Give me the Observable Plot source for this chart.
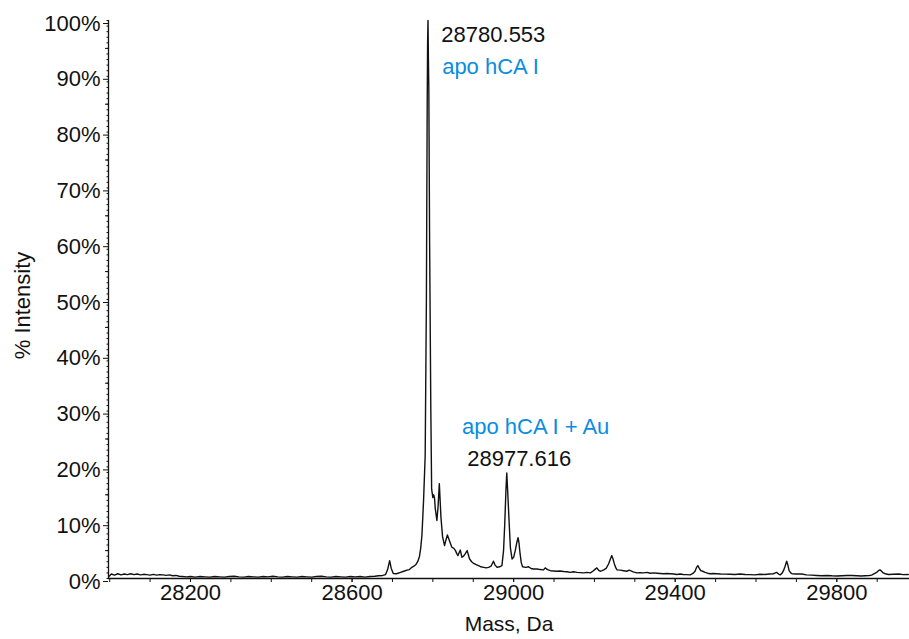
<!DOCTYPE html>
<html><head><meta charset="utf-8">
<script src="https://cdn.jsdelivr.net/npm/d3@7"></script>
<script src="https://cdn.jsdelivr.net/npm/@observablehq/plot@0.6"></script>
<style>html,body{margin:0;padding:0;background:#fff}</style>
</head><body><div id="chart"></div>
<script>
// Mass (Da)
const mass = [
27998,28004,28012,28020,28028,28036,28044,28052,28060,28068,28076,28084,28092,28100,28108,28116,28124,28132,28140,28148,
28156,28164,28172,28180,28190,28200,28212,28224,28236,28248,28260,28272,28284,28296,28308,28320,28332,28344,28356,28368,
28380,28392,28404,28416,28428,28440,28452,28464,28476,28488,28500,28512,28524,28536,28548,28560,28572,28584,28596,28608,
28620,28632,28644,28656,28666,28676,28683,28688,28693,28697,28702,28710,28720,28728,28736,28742,28748,28753,28758,28763,
28767,28770,28773,28777,28781,28784,28786,28787,28788,28789,28790,28792,28795,28797,28800,28802,28804,28806,28810,28813,
28816,28818,28820,28824,28829,28832,28836,28840,28844,28847,28852,28856,28859,28862,28865,28868,28872,28876,28880,28885,
28888,28891,28896,28901,28907,28913,28919,28926,28932,28938,28944,28950,28954,28959,28965,28971,28975,28978,28981,28983,
28985,28989,28992,28996,29000,29004,29008,29011,29013,29016,29019,29022,29030,29037,29043,29049,29058,29066,29074,29078,
29084,29091,29099,29107,29115,29124,29132,29140,29148,29157,29165,29173,29181,29190,29196,29200,29206,29210,29214,29219,
29223,29229,29235,29240,29243,29246,29249,29253,29256,29264,29272,29280,29286,29289,29296,29305,29313,29321,29330,29338,
29346,29355,29363,29371,29380,29388,29396,29404,29412,29420,29428,29437,29444,29449,29453,29456,29459,29463,29468,29474,
29480,29486,29494,29503,29512,29524,29536,29548,29560,29573,29585,29597,29610,29622,29633,29643,29648,29651,29656,29660,
29665,29668,29672,29676,29679,29682,29686,29689,29700,29713,29725,29738,29750,29763,29775,29788,29800,29813,29825,29837,
29850,29860,29870,29880,29886,29894,29899,29903,29907,29911,29915,29920,29928,29940,29953,29965,29977
];
// % Intensity
const intensity = [
0.35,0.8,0.6,0.85,0.65,0.8,0.7,0.85,0.7,0.8,0.65,0.75,0.7,0.6,0.75,0.6,0.7,0.65,0.55,0.65,
0.5,0.55,0.4,0.35,0.3,0.35,0.25,0.35,0.3,0.25,0.35,0.3,0.25,0.35,0.4,0.3,0.25,0.35,0.3,0.25,
0.35,0.3,0.4,0.3,0.25,0.35,0.3,0.25,0.35,0.3,0.25,0.35,0.4,0.3,0.25,0.35,0.3,0.25,0.35,0.3,
0.35,0.25,0.35,0.4,0.5,0.55,0.7,1.6,3.2,1.8,0.9,0.85,1.1,1.3,1.5,1.6,2.0,2.2,2.5,3.1,
4.0,5.5,7.8,14,22,50,85,96,100,93,88,60,30,16,14.5,15,14.5,12.5,10.4,13,
17,14,11,7.5,5.9,6.8,7.8,7,6.2,5.6,5.4,5.0,4.5,4.1,4.6,5.1,3.8,4.0,4.4,5.0,
4.2,3.5,3.0,2.7,2.5,2.3,2.1,2.0,1.9,2.0,2.2,3.1,2.4,2.0,2.1,2.3,5,9.8,16,18.9,
16,9.8,5.5,3.5,3.8,5.0,6.5,7.3,6.5,4.4,2.8,2.1,2.0,2.1,1.8,1.7,1.7,1.6,1.55,1.9,
1.6,1.4,1.35,1.3,1.35,1.25,1.2,1.1,1.2,1.1,1.05,1.0,1.1,1.0,1.3,1.55,1.9,1.5,1.3,1.4,
1.55,1.8,2.6,3.6,4.1,3.5,2.7,1.9,1.55,1.5,1.4,1.3,1.5,1.4,1.2,1.0,1.05,1.0,1.1,0.95,
1.0,0.95,0.9,0.85,0.9,0.85,0.8,0.72,0.8,0.72,0.7,0.65,0.9,1.3,2.0,2.3,1.9,1.4,1.3,1.1,
0.95,0.85,0.9,0.85,0.8,0.78,0.75,0.72,0.8,0.72,0.7,0.65,0.75,0.72,0.8,0.85,1.0,1.1,0.8,0.65,
1.0,1.4,2.2,3.1,2.4,1.4,1.0,0.85,0.8,0.8,0.65,0.6,0.55,0.48,0.55,0.48,0.45,0.5,0.55,0.55,
0.5,0.45,0.5,0.55,0.6,0.9,1.1,1.4,1.55,1.3,1.0,0.85,0.72,0.75,0.8,0.7,0.72
];
const xTickValues = [28200, 28600, 29000, 29400, 29800];
const yTickValues = [0, 10, 20, 30, 40, 50, 60, 70, 80, 90, 100];
const annotationText = ["28780.553", "apo hCA I", "apo hCA I + Au", "28977.616"];
const annotationMass = [28821, 28823, 28872, 28885];
const annotationIntensity = [97.4, 91.7, 27.2, 21.5];
const annotationColor = ["#111111", "#0a8de0", "#0a8de0", "#111111"];

const xDomain = [27997, 29980];
const spectrum = mass.map((m, i) => ({mass: m, intensity: intensity[i]}));
const annotations = annotationText.map((t, i) => ({text: t, mass: annotationMass[i], intensity: annotationIntensity[i], color: annotationColor[i]}));
const xMinor = d3.range(28000, 29981, 100);
const yMinor1 = d3.range(0, 101, 1);
const yMinor5 = d3.range(5, 100, 10);

const chart = Plot.plot({
  width: 909,
  height: 639,
  marginLeft: 108,
  marginRight: 0,
  marginTop: 20,
  marginBottom: 61,
  style: {fontFamily: "'Liberation Sans', Arial, Helvetica, sans-serif", fontSize: "22px", color: "#111", background: "#fff"},
  x: {domain: xDomain},
  y: {domain: [0, 100]},
  marks: [
    Plot.axisX({ticks: xMinor, tickSize: 4, tickFormat: () => "", label: null}),
    Plot.axisX({ticks: xTickValues, tickSize: 4, tickPadding: 2, tickFormat: d => String(d), label: null}),
    Plot.axisY({ticks: yMinor1, tickSize: 1.5, tickFormat: () => "", label: null}),
    Plot.axisY({ticks: yMinor5, tickSize: 3, tickFormat: () => "", label: null}),
    Plot.axisY({ticks: yTickValues, tickSize: 5, tickPadding: 3, dy: 3, tickFormat: d => d + "%", label: null}),
    Plot.ruleY([0], {stroke: "#111", strokeWidth: 1.3}),
    Plot.ruleX([xDomain[0]], {stroke: "#111", strokeWidth: 1.3}),
    Plot.line(spectrum, {x: "mass", y: "intensity", stroke: "#111", strokeWidth: 1.4}),
    Plot.text(annotations, {x: "mass", y: "intensity", text: "text", fill: "color", textAnchor: "start", fontSize: 22}),
    Plot.text(["Mass, Da"], {frameAnchor: "bottom", dy: 52, fontSize: 21, fill: "#111"}),
    Plot.text(["% Intensity"], {frameAnchor: "left", textAnchor: "middle", rotate: -90, dx: -86, dy: 6, fontSize: 22, fill: "#111"})
  ]
});
document.getElementById("chart").appendChild(chart);
</script>
</body></html>
